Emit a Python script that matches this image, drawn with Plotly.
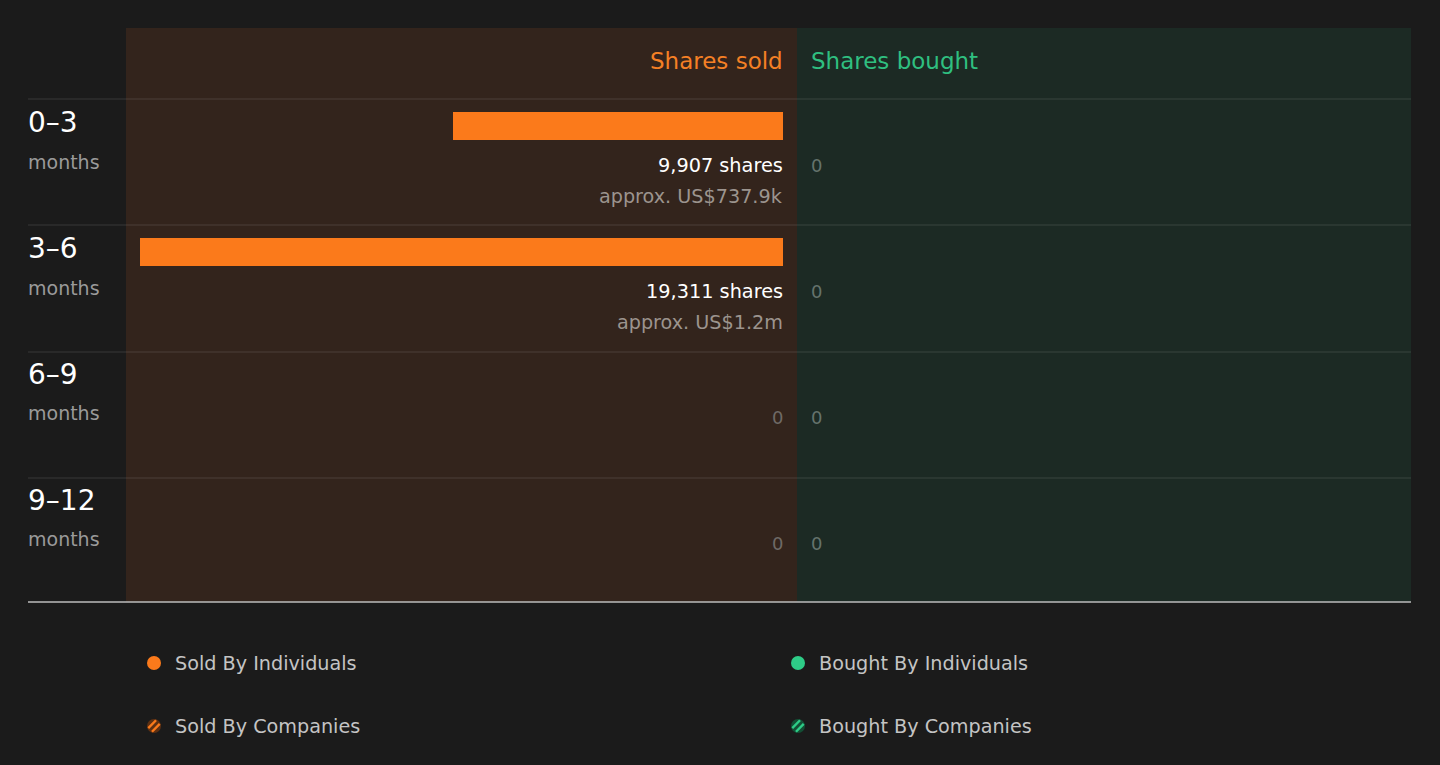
import plotly.graph_objects as go
import numpy as np

# data ==========================================
periods = ["0–3", "3–6", "6–9", "9–12"]
period_unit = "months"
shares_sold = [9907, 19311, 0, 0]
shares_bought = [0, 0, 0, 0]
sold_value_labels = ["approx. US$737.9k", "approx. US$1.2m", "", ""]
legend_labels = ["Sold By Individuals", "Sold By Companies",
                 "Bought By Individuals", "Bought By Companies"]

W, H = 1440, 765
FONT = "DejaVu Sans"
BG = "#1b1b1b"
SOLD_BG = "#33241c"
BOUGHT_BG = "#1c2a24"
ORANGE = "#fb7a1b"
GREEN = "#2ecc87"


def px(x):
    return x / W


def py(y):
    return 1 - y / H


def note(text, size, color, **kw):
    # annotation without the default padding, so text sits where it is placed
    return dict(text=text, showarrow=False, borderpad=0, borderwidth=0,
                yanchor="middle", font=dict(family=FONT, size=size, color=color), **kw)


fig = go.Figure()

# bars ------------------------------------------
fig.add_trace(go.Bar(
    x=shares_sold, y=periods, orientation="h",
    marker=dict(color=ORANGE, line=dict(width=0)),
    width=0.222, offset=-0.397,
    xaxis="x", yaxis="y", hoverinfo="skip", showlegend=False,
))
fig.add_trace(go.Bar(
    x=shares_bought, y=periods, orientation="h",
    marker=dict(color=GREEN, line=dict(width=0)),
    width=0.222, offset=-0.397,
    xaxis="x2", yaxis="y", hoverinfo="skip", showlegend=False,
))

# panels and row lines -----------------------------
shapes = [
    dict(type="rect", xref="paper", yref="paper", x0=px(126), x1=px(797),
         y0=py(602), y1=py(28), fillcolor=SOLD_BG, line=dict(width=0), layer="below"),
    dict(type="rect", xref="paper", yref="paper", x0=px(797), x1=px(1411),
         y0=py(602), y1=py(28), fillcolor=BOUGHT_BG, line=dict(width=0), layer="below"),
]
for yy in [99, 225, 352, 478]:
    shapes.append(dict(type="line", xref="paper", yref="paper", x0=px(28), x1=px(1411),
                       y0=py(yy), y1=py(yy), line=dict(color="rgba(255,255,255,0.13)", width=1),
                       layer="below"))
shapes.append(dict(type="line", xref="paper", yref="paper", x0=px(28), x1=px(1411),
                   y0=py(602), y1=py(602), line=dict(color="#bdbdbd", width=1.5)))

annotations = []

# headers
annotations.append(note("Shares sold", 23, "#f58025", xref="paper", yref="paper",
                        x=px(783), y=py(61), xanchor="right"))
annotations.append(note("Shares bought", 23, "#2fbf80", xref="paper", yref="paper",
                        x=px(811), y=py(61), xanchor="left"))

# row labels and value texts
for p, s, b, v in zip(periods, shares_sold, shares_bought, sold_value_labels):
    annotations.append(note(p, 28, "#ffffff", xref="paper", yref="y", x=px(28), y=p,
                            yshift=39, xanchor="left"))
    annotations.append(note(period_unit, 19, "#9a9a9a", xref="paper", yref="y", x=px(28), y=p,
                            yshift=0, xanchor="left"))
    if s > 0:
        annotations.append(note(f"{s:,} shares", 19.3, "#ffffff", xref="x", yref="y", x=0, y=p,
                                yshift=-4, xanchor="right"))
        annotations.append(note(v, 19.2, "#9c948e", xref="x", yref="y", x=0, y=p,
                                yshift=-35, xanchor="right"))
    else:
        annotations.append(note(f"{s:,}", 18, "#6e6a66", xref="x", yref="y", x=0, y=p,
                                yshift=-4, xanchor="right"))
    bought_txt = f"{b:,}" if b == 0 else f"{b:,} shares"
    annotations.append(note(bought_txt, 18, "#64736c", xref="x2", yref="y", x=0, y=p,
                            yshift=-4, xanchor="left"))

# legend -----------------------------------------
legend_pos = [(154, 663), (154, 726), (798, 663), (798, 726)]
legend_cols = [(ORANGE, None), ("#5e3012", ORANGE), (GREEN, None), ("#134f35", GREEN)]
r = 7
for (cx, cy), (fill, stripe), lab in zip(legend_pos, legend_cols, legend_labels):
    shapes.append(dict(type="circle", xref="paper", yref="paper",
                       x0=px(cx - r), x1=px(cx + r), y0=py(cy + r), y1=py(cy - r),
                       fillcolor=fill, line=dict(width=0)))
    if stripe:
        # two diagonal stripes clipped to the circle
        for d in [-2.6, 2.6]:
            half = np.sqrt(max(r * r - d * d, 0)) - 1.0
            ux, uy = np.sqrt(0.5), -np.sqrt(0.5)
            nx, ny = np.sqrt(0.5), np.sqrt(0.5)
            mx, my = cx + d * nx, cy + d * ny
            shapes.append(dict(type="line", xref="paper", yref="paper",
                               x0=px(mx - half * ux), y0=py(my - half * uy),
                               x1=px(mx + half * ux), y1=py(my + half * uy),
                               line=dict(color=stripe, width=2.4)))
    annotations.append(note(lab, 19.2, "#c4c4c4", xref="paper", yref="paper",
                            x=px(cx + 21), y=py(cy), xanchor="left"))

fig.update_layout(
    width=W, height=H,
    margin=dict(l=0, r=0, t=0, b=0),
    paper_bgcolor=BG, plot_bgcolor="rgba(0,0,0,0)",
    showlegend=False, bargap=0,
    xaxis=dict(domain=[px(140), px(783)], range=[max(shares_sold), 0],
               visible=False, fixedrange=True),
    xaxis2=dict(domain=[px(811), px(1397)], range=[0, max(shares_sold)],
                visible=False, fixedrange=True, anchor="y"),
    yaxis=dict(domain=[py(602), py(99)], range=[3.5, -0.5], type="category",
               visible=False, fixedrange=True),
    shapes=shapes,
    annotations=annotations,
)

fig.write_html("out.html", config=dict(displayModeBar=False),
               post_script="document.body.style.margin='0';"
                           "document.body.style.overflow='hidden';"
                           "document.body.style.background='%s';" % BG)
